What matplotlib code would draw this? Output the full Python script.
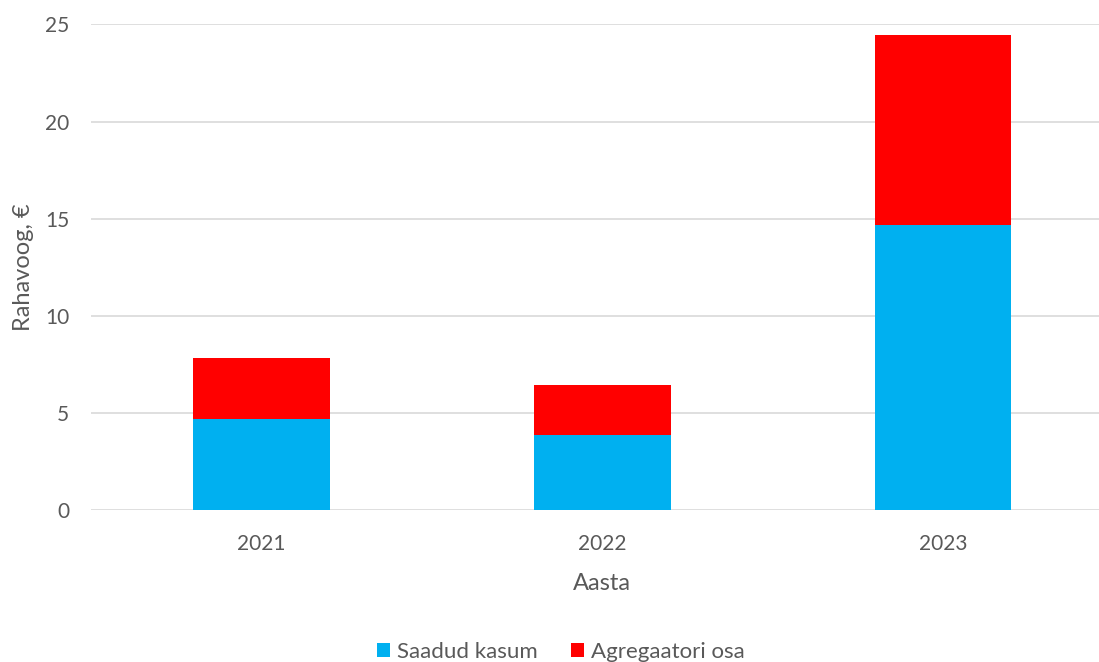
import numpy as np
import matplotlib
matplotlib.use("Agg")
from matplotlib import pyplot as plt

years = ['2021', '2022', '2023']
saadud_kasum = [4.70, 3.87, 14.68]
agregaatori_osa = [3.14, 2.57, 9.77]

plt.rcParams['font.family'] = ['Lato', 'DejaVu Sans']
text_color = '#595959'

fig = plt.figure(figsize=(10.99, 6.62), dpi=100)
# plot area runs a little past the right edge, as in the source chart
ax = fig.add_axes([0.0831, 0.2292, 0.930, 0.734])

x = np.arange(len(years))
width = 0.401
ax.bar(x, saadud_kasum, width, color='#00b0f0', label='Saadud kasum', zorder=3)
ax.bar(x, agregaatori_osa, width, bottom=saadud_kasum, color='#ff0000',
       label='Agregaatori osa', zorder=3)

ax.set_xlim(-0.5, len(years) - 0.5)
ax.set_ylim(0, 25)
ax.set_yticks(np.arange(0, 26, 5))
ax.set_xticks(x)
ax.set_xticklabels(years)
ax.grid(axis='y', color='#d9d9d9', linewidth=1.2, zorder=0)
for s in ax.spines.values():
    s.set_visible(False)
ax.tick_params(length=0, labelsize=15, labelcolor=text_color)
ax.tick_params(axis='y', pad=16)
ax.tick_params(axis='x', pad=17)

ax.set_xlabel('Aasta', fontsize=17, color=text_color, labelpad=14)
ax.set_ylabel('Rahavoog, €', fontsize=17, color=text_color, labelpad=8)

fig.legend(loc='lower center', bbox_to_anchor=(0.51, -0.03), ncol=2,
           frameon=False, fontsize=16, labelcolor=text_color,
           handlelength=0.6, handleheight=0.6, handletextpad=0.3,
           columnspacing=1.5)

fig.savefig('out.png', dpi=100)
